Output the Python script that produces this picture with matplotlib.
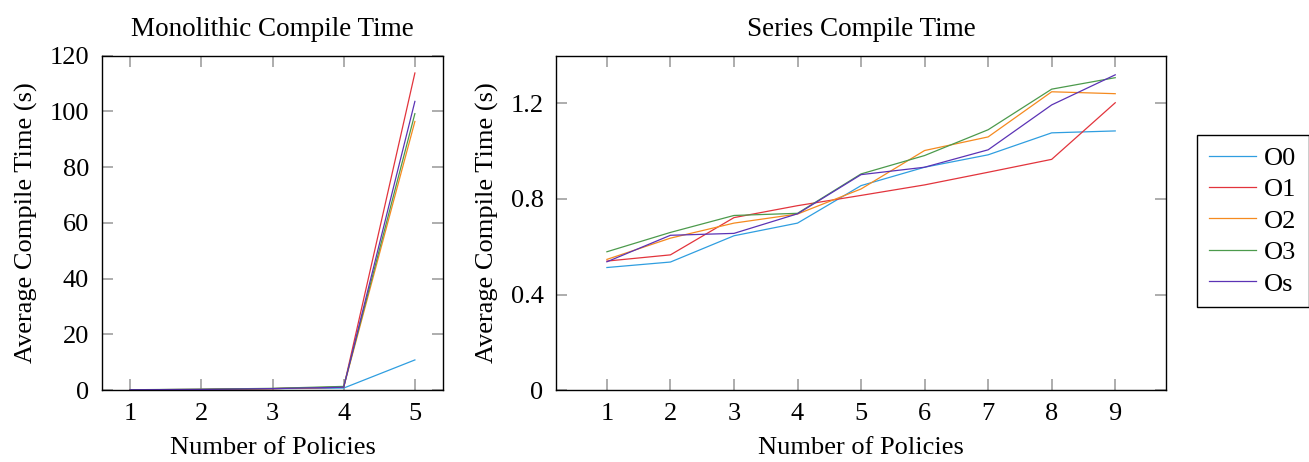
import numpy as np
import matplotlib.pyplot as plt

plt.rcParams['font.family'] = ['Liberation Serif', 'DejaVu Serif']
plt.rcParams['font.size'] = 19

# Data
levels = ['O0', 'O1', 'O2', 'O3', 'Os']
colors = ['#2f9ee0', '#e2343c', '#f58a1f', '#4c9a4c', '#5b33b5']

mono_x = [1, 2, 3, 4, 5]
mono = {
    'O0': [0.1, 0.2, 0.5, 0.7, 10.8],
    'O1': [0.1, 0.2, 0.5, 1.0, 113.8],
    'O2': [0.1, 0.2, 0.5, 1.1, 96.4],
    'O3': [0.1, 0.3, 0.6, 1.3, 99.2],
    'Os': [0.1, 0.2, 0.5, 1.0, 103.6],
}

series_x = [1, 2, 3, 4, 5, 6, 7, 8, 9]
series = {
    'O0': [0.513, 0.536, 0.646, 0.699, 0.856, 0.933, 0.985, 1.077, 1.085],
    'O1': [0.540, 0.566, 0.722, 0.772, 0.815, 0.859, 0.912, 0.966, 1.203],
    'O2': [0.547, 0.636, 0.699, 0.737, 0.842, 1.003, 1.060, 1.249, 1.241],
    'O3': [0.579, 0.660, 0.731, 0.740, 0.905, 0.982, 1.090, 1.260, 1.308],
    'Os': [0.537, 0.648, 0.656, 0.738, 0.902, 0.933, 1.006, 1.194, 1.320],
}

fig = plt.figure(figsize=(13.09, 4.62), dpi=100)
ax1 = fig.add_axes([0.0777, 0.1558, 0.261, 0.7236])
ax2 = fig.add_axes([0.4248, 0.1558, 0.466, 0.7236])

for lv, c in zip(levels, colors):
    ax1.plot(mono_x, mono[lv], color=c, lw=0.9, label=lv)
    ax2.plot(series_x, series[lv], color=c, lw=0.9)

def style(ax):
    ax.tick_params(direction='in', length=8, width=1.2, color='#a0a0a0',
                   top=True, right=True, pad=9, labelsize=19)
    for s in ax.spines.values():
        s.set_linewidth(1.0)

ax1.set_xlim(0.6, 5.4)
ax1.set_ylim(0, 120)
ax1.set_xticks(mono_x)
ax1.set_yticks([0, 20, 40, 60, 80, 100, 120])
ax1.set_title('Monolithic Compile Time', pad=14, fontsize=19.5)
ax1.set_xlabel('Number of Policies', labelpad=9)
ax1.set_ylabel('Average Compile Time (s)', labelpad=8)
style(ax1)

ax2.set_xlim(0.2, 9.8)
ax2.set_ylim(0, 1.4)
ax2.set_xticks(series_x)
ax2.set_yticks([0, 0.4, 0.8, 1.2])
ax2.set_yticklabels(['0', '0.4', '0.8', '1.2'])
ax2.set_title('Series Compile Time', pad=14, fontsize=19.5)
ax2.set_xlabel('Number of Policies', labelpad=9)
ax2.set_ylabel('Average Compile Time (s)', labelpad=8)
style(ax2)

leg = fig.legend(loc='center left', bbox_to_anchor=(1197 / 1309, (462 - 221) / 462),
                 fancybox=False, edgecolor='black', framealpha=1, fontsize=19,
                 handlelength=1.8, handletextpad=0.3, borderpad=0.45,
                 labelspacing=0.3, borderaxespad=0)
leg.get_frame().set_linewidth(1.0)

fig.savefig('out.png', dpi=100)
